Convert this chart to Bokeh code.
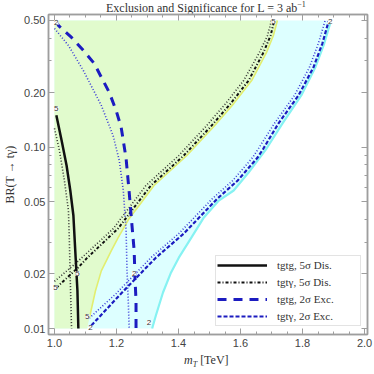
from bokeh.plotting import figure
from bokeh.models import (FixedTicker, LinearAxis, LogAxis, LabelSet, Div,
                          ColumnDataSource, NumeralTickFormatter, CustomJSTickFormatter)
from bokeh.layouts import column
from bokeh.core.properties import value
from bokeh.embed import file_html
from bokeh.resources import INLINE

# ---------------- data ----------------
x_ticks = [1.0, 1.2, 1.4, 1.6, 1.8, 2.0]
x_minor = [1.05, 1.1, 1.15, 1.25, 1.3, 1.35, 1.45, 1.5, 1.55, 1.65, 1.7, 1.75, 1.85, 1.9, 1.95]
y_ticks = [0.01, 0.02, 0.05, 0.1, 0.2, 0.5]
y_minor = [0.03, 0.04, 0.06, 0.07, 0.08, 0.09, 0.3, 0.4]

# tgtg, 5 sigma discovery (solid black) and its dotted companion
s_x = [1.006, 1.023, 1.039, 1.051, 1.061, 1.067, 1.074, 1.077]
s_y = [0.150, 0.109, 0.0793, 0.0577, 0.042, 0.0269, 0.0162, 0.0100]
sd_x = [1.0, 1.016, 1.032, 1.045, 1.048, 1.051, 1.055]
sd_y = [0.127, 0.0959, 0.0655, 0.0448, 0.0306, 0.0184, 0.0100]

# tgt-gamma, 5 sigma discovery (dash-dot black) and its dotted companion
dd_x = [1.006, 1.080, 1.103, 1.205, 1.311, 1.417, 1.504, 1.568, 1.626, 1.674, 1.697, 1.709]
dd_y = [0.0168, 0.0220, 0.0243, 0.0356, 0.0615, 0.090, 0.130, 0.174, 0.233, 0.333, 0.413, 0.50]
ddd_x = [1.0, 1.071, 1.190, 1.295, 1.401, 1.488, 1.552, 1.610, 1.661, 1.687, 1.700]
ddd_y = [0.0182, 0.0231, 0.0356, 0.0615, 0.090, 0.130, 0.174, 0.233, 0.333, 0.413, 0.50]

# tgtg, 2 sigma exclusion (long blue dashes) and its dotted companion
b1_x = [1.003, 1.013, 1.055, 1.093, 1.128, 1.177, 1.199, 1.215, 1.231, 1.241, 1.250, 1.257, 1.260, 1.263, 1.263]
b1_y = [0.50, 0.469, 0.403, 0.342, 0.290, 0.200, 0.159, 0.129, 0.0866, 0.0563, 0.0370, 0.0269, 0.0184, 0.0142, 0.0100]
b1d_x = [1.0, 1.045, 1.093, 1.151, 1.189, 1.209, 1.222, 1.231, 1.234, 1.238, 1.241]
b1d_y = [0.452, 0.364, 0.265, 0.170, 0.116, 0.0845, 0.0577, 0.0347, 0.0209, 0.0142, 0.0100]

# tgt-gamma, 2 sigma exclusion (short blue dashes) and its dotted companion
b2_x = [1.119, 1.215, 1.327, 1.417, 1.526, 1.591, 1.655, 1.674, 1.722, 1.787, 1.835, 1.864, 1.883, 1.886]
b2_y = [0.0104, 0.0156, 0.0246, 0.0334, 0.0522, 0.0655, 0.0877, 0.0984, 0.135, 0.193, 0.275, 0.373, 0.487, 0.50]
b2d_x = [1.112, 1.199, 1.311, 1.401, 1.510, 1.575, 1.639, 1.658, 1.709, 1.774, 1.822, 1.851, 1.873]
b2d_y = [0.0114, 0.0156, 0.0246, 0.0334, 0.0522, 0.0655, 0.0877, 0.0984, 0.135, 0.193, 0.275, 0.373, 0.50]

# boundary of the green (discovery) region
yel_x = [1.112, 1.132, 1.151, 1.183, 1.205, 1.241, 1.279, 1.321, 1.427, 1.514, 1.578, 1.636, 1.684, 1.706, 1.719]
yel_y = [0.0113, 0.0161, 0.0208, 0.0268, 0.0316, 0.0405, 0.0493, 0.0615, 0.090, 0.130, 0.174, 0.233, 0.333, 0.413, 0.50]
# boundary of the cyan (exclusion) region
cyan_x = [1.315, 1.327, 1.350, 1.376, 1.401, 1.440, 1.482, 1.530, 1.578, 1.626, 1.684, 1.735, 1.796, 1.841, 1.870, 1.892]
cyan_y = [0.0100, 0.0118, 0.0158, 0.0204, 0.0246, 0.0314, 0.0410, 0.0508, 0.0577, 0.0725, 0.0984, 0.135, 0.193, 0.275, 0.373, 0.50]

x_min, x_max = 1.0, 2.0
y_min, y_max = 0.01, 0.5

# contour labels
lab_x = [1.006, 1.006, 1.074, 1.003, 1.706, 1.889, 1.106, 1.116, 1.257, 1.305]
lab_y = [0.4875, 0.163, 0.0201, 0.0168, 0.494, 0.494, 0.01165, 0.0101, 0.0201, 0.0108]
lab_t = ["2", "5", "5", "5", "5", "2", "5", "2", "2", "2"]

# ---------------- figure ----------------
p = figure(width=374, height=339, output_backend="svg", toolbar_location=None,
           title=None, x_range=(0.9807, 2.0096), y_range=(0.00927, 0.5395),
           y_axis_type="log", min_border_left=47, min_border_right=7,
           min_border_top=1, min_border_bottom=18, margin=(0, 0, 0, 0))
p.xgrid.visible = False
p.ygrid.visible = False
p.outline_line_color = "#9e9e9e"
p.outline_line_width = 1.5
p.background_fill_color = "white"

GREEN = "#e1fbcd"
CYAN = "#ddffff"

cx = [x_min] + cyan_x + [x_min]
cy = [y_min] + cyan_y + [y_max]
p.patch(cx, cy, fill_color=CYAN, line_color=None)
gx = [x_min, 1.105] + yel_x + [x_min]
gy = [y_min, y_min] + yel_y + [y_max]
p.patch(gx, gy, fill_color=GREEN, line_color=None)
p.line(yel_x, yel_y, line_color="#e2ee70", line_width=1.6)
p.line(cyan_x, cyan_y, line_color="#86f2f2", line_width=2.2)

BLUE = "#1c1cc0"
BLUE_D = "#3a3ad8"
p.line(sd_x, sd_y, line_color="#333333", line_width=1.6, line_dash="1 2")
p.line(ddd_x, ddd_y, line_color="#333333", line_width=1.6, line_dash="1 2")
p.line(b1d_x, b1d_y, line_color=BLUE_D, line_width=1.6, line_dash="1 2")
p.line(b2d_x, b2d_y, line_color=BLUE_D, line_width=1.6, line_dash="1 2")

p.line(s_x, s_y, line_color="#111111", line_width=2.5, legend_label="tgtg, 5σ Dis.")
p.line(dd_x, dd_y, line_color="#111111", line_width=2, line_dash="3 2 1 2",
       legend_label="tgtγ, 5σ Dis.")
p.line(b1_x, b1_y, line_color=BLUE, line_width=3, line_dash="9 7",
       legend_label="tgtg, 2σ Exc.")
p.line(b2_x, b2_y, line_color=BLUE, line_width=2.2, line_dash="4 2",
       legend_label="tgtγ, 2σ Exc.")

src = ColumnDataSource(dict(x=lab_x, y=lab_y, t=lab_t))
p.add_layout(LabelSet(x="x", y="y", text="t", source=src, text_font=value("Liberation Sans"),
                      text_font_size="8px", text_color="#333333", text_align="center",
                      text_baseline="middle", background_fill_color="white"))

# axes
AX = "#9e9e9e"
for ax in (p.xaxis[0], p.yaxis[0]):
    ax.axis_line_color = AX
    ax.axis_line_width = 1.5
    ax.major_tick_line_color = AX
    ax.minor_tick_line_color = AX
    ax.major_tick_in = 6
    ax.major_tick_out = 0
    ax.minor_tick_in = 3
    ax.minor_tick_out = 0
    ax.major_label_text_font = "Liberation Sans"
    ax.major_label_text_font_size = "11px"
    ax.major_label_text_color = "#444444"
p.xaxis[0].ticker = FixedTicker(ticks=x_ticks, minor_ticks=x_minor)
p.xaxis[0].formatter = NumeralTickFormatter(format="0.0")
p.xaxis[0].major_label_standoff = 4
p.yaxis[0].ticker = FixedTicker(ticks=y_ticks, minor_ticks=y_minor)
p.yaxis[0].formatter = NumeralTickFormatter(format="0.00")
p.yaxis[0].major_label_standoff = 3
p.yaxis[0].axis_label = "BR(T → tγ)"
p.yaxis[0].axis_label_text_font = "Liberation Serif"
p.yaxis[0].axis_label_text_font_style = "normal"
p.yaxis[0].axis_label_text_font_size = "12px"
p.yaxis[0].axis_label_text_color = "#333333"
p.yaxis[0].axis_label_standoff = 4

top = LinearAxis(ticker=FixedTicker(ticks=x_ticks, minor_ticks=x_minor),
                 formatter=CustomJSTickFormatter(code="return ''"))
right = LogAxis(ticker=FixedTicker(ticks=y_ticks, minor_ticks=y_minor),
                formatter=CustomJSTickFormatter(code="return ''"))
for ax in (top, right):
    ax.axis_line_color = AX
    ax.axis_line_width = 1.5
    ax.major_tick_line_color = AX
    ax.minor_tick_line_color = AX
    ax.major_tick_in = 6
    ax.major_tick_out = 0
    ax.minor_tick_in = 3
    ax.minor_tick_out = 0
    ax.major_label_text_font_size = "0px"
    ax.major_label_standoff = 0
p.add_layout(top, "above")
p.add_layout(right, "right")

# legend
lg = p.legend[0]
lg.location = (167, 8)
lg.border_line_color = "#c8c8c8"
lg.border_line_width = 1
lg.background_fill_color = "white"
lg.background_fill_alpha = 1.0
lg.label_text_font = "Liberation Serif"
lg.label_text_font_size = "11px"
lg.label_text_color = "#333333"
lg.glyph_width = 50
lg.glyph_height = 16
lg.label_height = 16
lg.label_width = 82
lg.spacing = 1
lg.padding = 1
lg.margin = 0
lg.label_standoff = 10

TXT = "font-family:'Liberation Serif',serif; font-size:12px; color:#333333; white-space:nowrap; margin:0;"
title = Div(text=('<div style="' + TXT + ' padding-left:106px; line-height:13px;">'
                  'Exclusion and Significance for L = 3 ab'
                  '<sup style="font-size:8px; line-height:0;">−1</sup></div>'),
            width=374, height=13, margin=(0, 0, 0, 0))
xlabel = Div(text=('<div style="' + TXT + ' padding-left:184px; line-height:14px; padding-top:1px;">'
                   '<i>m</i><sub style="font-size:8px; line-height:0;"><i>T</i></sub> [TeV]</div>'),
             width=374, height=22, margin=(0, 0, 0, 0))

layout = column(title, p, xlabel, spacing=0, margin=(0, 0, 0, 0))
open("out.html", "w").write(file_html(layout, INLINE))
